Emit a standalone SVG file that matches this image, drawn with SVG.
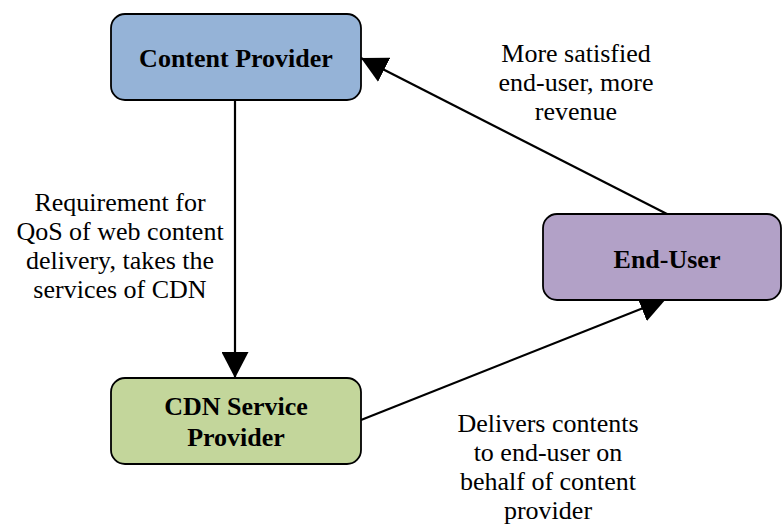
<svg xmlns="http://www.w3.org/2000/svg" width="782" height="526" viewBox="0 0 782 526">
<defs>
<style>
.box{stroke:#000;stroke-width:1.8}
.title{font-family:'Liberation Serif',serif;font-size:26px;font-weight:bold;fill:#000;text-anchor:middle}
.lbl{font-family:'Liberation Serif',serif;font-size:26px;fill:#000;text-anchor:middle}
.edge{stroke:#000;stroke-width:2.2;fill:none;marker-end:url(#ah)}
</style>
<marker id="ah" markerUnits="userSpaceOnUse" markerWidth="27" markerHeight="27" refX="26" refY="13.5" orient="auto" viewBox="0 0 27 27">
<path d="M0,0 L26,13.5 L0,27 Z" fill="#000"/>
</marker>
</defs>
<rect width="782" height="526" fill="#fff"/>
<g id="connectors">
<line class="edge" x1="235" y1="100" x2="235" y2="378"/>
<line class="edge" x1="361" y1="420" x2="666" y2="299"/>
<line class="edge" x1="667" y1="214" x2="361" y2="58"/>
</g>
<g id="content-provider">
<rect class="box" x="111" y="14" width="250" height="86" rx="14" fill="#95B3D7"/>
<text class="title" x="236" y="67">Content Provider</text>
</g>
<g id="end-user">
<rect class="box" x="543" y="214" width="238" height="86" rx="14" fill="#B2A1C7"/>
<text class="title" x="667" y="268">End-User</text>
</g>
<g id="cdn-service-provider">
<rect class="box" x="111" y="378" width="250" height="86" rx="14" fill="#C3D69B"/>
<text class="title" x="236" y="415">CDN Service</text>
<text class="title" x="236" y="446">Provider</text>
</g>
<g id="labels">
<text class="lbl" x="120" y="211">Requirement for</text>
<text class="lbl" x="120" y="240">QoS of web content</text>
<text class="lbl" x="120" y="269">delivery, takes the</text>
<text class="lbl" x="120" y="298">services of CDN</text>
<text class="lbl" x="576" y="62">More satisfied</text>
<text class="lbl" x="576" y="91">end-user, more</text>
<text class="lbl" x="576" y="120">revenue</text>
<text class="lbl" x="548" y="432">Delivers contents</text>
<text class="lbl" x="548" y="461">to end-user on</text>
<text class="lbl" x="548" y="490">behalf of content</text>
<text class="lbl" x="548" y="519">provider</text>
</g>
</svg>
